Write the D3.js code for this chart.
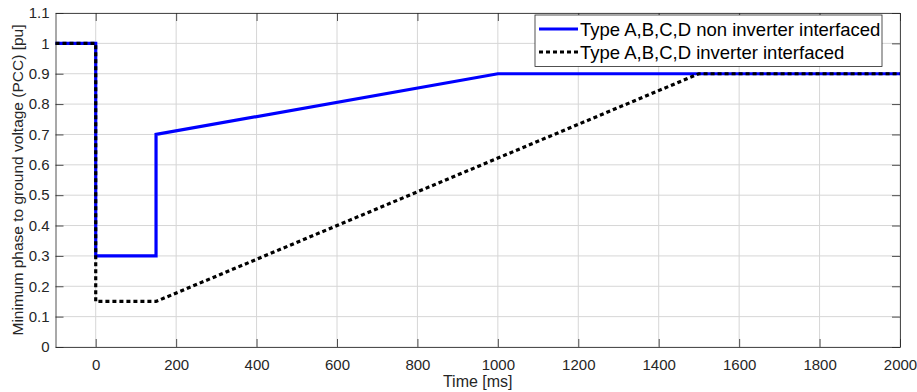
<!DOCTYPE html>
<html lang="en">
<head>
<meta charset="UTF-8">
<title>Voltage ride through</title>
<script src="https://d3js.org/d3.v7.min.js"></script>
<style>
    body { margin: 0; background: #fff; }
</style>
</head>
<body>
<script>
    var w = 917, h = 392;
    var margin = {left: 55.5, right: 17, top: 13, bottom: 45};
    var font = "'Liberation Sans', Arial, sans-serif";

    var xTicks = [0, 200, 400, 600, 800, 1000, 1200, 1400, 1600, 1800, 2000];
    var yTicks = [0, 0.1, 0.2, 0.3, 0.4, 0.5, 0.6, 0.7, 0.8, 0.9, 1, 1.1];

    var seriesNames = ["Type A,B,C,D non inverter interfaced", "Type A,B,C,D inverter interfaced"];
    var nonInvTime = [-100, 0, 0, 150, 150, 1000, 2000];
    var nonInvVolt = [1, 1, 0.3, 0.3, 0.7, 0.9, 0.9];
    var invTime = [-100, 0, 0, 150, 1500, 2000];
    var invVolt = [1, 1, 0.15, 0.15, 0.9, 0.9];

    var svg = d3.select("body").append("svg")
        .attr("width", w).attr("height", h);

    var x = d3.scaleLinear().domain([-100, 2000]).range([margin.left, w - margin.right]);
    var y = d3.scaleLinear().domain([0, 1.1]).range([h - margin.bottom, margin.top]);

    var x0 = x.range()[0], x1 = x.range()[1], y0 = y.range()[0], y1 = y.range()[1];

    // grid
    var grid = svg.append("g").attr("stroke", "#d6d6d6").attr("stroke-width", 1);
    xTicks.forEach(function (t) {
        grid.append("line").attr("x1", x(t)).attr("x2", x(t)).attr("y1", y0).attr("y2", y1);
    });
    yTicks.forEach(function (t) {
        grid.append("line").attr("x1", x0).attr("x2", x1).attr("y1", y(t)).attr("y2", y(t));
    });

    // axes, box with inward ticks
    var xAxis = d3.axisBottom(x).tickValues(xTicks).tickSizeInner(-8).tickSizeOuter(0).tickPadding(12)
        .tickFormat(d3.format("d"));
    var yAxis = d3.axisLeft(y).tickValues(yTicks).tickSizeInner(-8).tickSizeOuter(0).tickPadding(6)
        .tickFormat(d3.format("~g"));

    var gx = svg.append("g").attr("transform", "translate(0," + y0 + ")").call(xAxis);
    var gy = svg.append("g").attr("transform", "translate(" + x0 + ",0)").call(yAxis);
    var gxTop = svg.append("g").attr("transform", "translate(0," + y1 + ")")
        .call(d3.axisTop(x).tickValues(xTicks).tickSizeInner(-8).tickSizeOuter(0).tickFormat(""));
    var gyRight = svg.append("g").attr("transform", "translate(" + x1 + ",0)")
        .call(d3.axisRight(y).tickValues(yTicks).tickSizeInner(-8).tickSizeOuter(0).tickFormat(""));

    [gx, gy, gxTop, gyRight].forEach(function (g) {
        g.attr("font-size", null).attr("font-family", null);
        g.select(".domain").attr("stroke", "#262626").attr("stroke-width", 0.8);
        g.selectAll(".tick line").attr("stroke", "#262626").attr("stroke-width", 0.8);
        g.selectAll(".tick text").attr("fill", "#262626")
            .style("font-family", font).style("font-size", "15px");
    });

    // axis titles
    svg.append("text")
        .attr("x", (x0 + x1) / 2).attr("y", h - 5)
        .attr("text-anchor", "middle").attr("fill", "#262626")
        .style("font-family", font).style("font-size", "16px")
        .text("Time [ms]");
    svg.append("text")
        .attr("transform", "translate(23," + ((y0 + y1) / 2) + ") rotate(-90)")
        .attr("text-anchor", "middle").attr("fill", "#262626")
        .style("font-family", font).style("font-size", "15.5px")
        .text("Minimum phase to ground voltage (PCC) [pu]");

    var line = d3.line().x(function (d) { return x(d[0]); }).y(function (d) { return y(d[1]); });

    var nonInv = d3.zip(nonInvTime, nonInvVolt);
    var inv = d3.zip(invTime, invVolt);

    svg.append("path").datum(nonInv).attr("d", line)
        .attr("fill", "none").attr("stroke", "#0000ff").attr("stroke-width", 3.2);
    svg.append("path").datum(inv).attr("d", line)
        .attr("fill", "none").attr("stroke", "#000").attr("stroke-width", 3.2)
        .attr("stroke-dasharray", "4,3");

    // legend
    var lg = svg.append("g").attr("transform", "translate(535,15)");
    lg.append("rect").attr("width", 347).attr("height", 51.5)
        .attr("fill", "#fff").attr("stroke", "#262626").attr("stroke-width", 0.8);
    lg.append("line").attr("x1", 4).attr("x2", 43).attr("y1", 14).attr("y2", 14)
        .attr("stroke", "#0000ff").attr("stroke-width", 3.2);
    lg.append("line").attr("x1", 4).attr("x2", 43).attr("y1", 37).attr("y2", 37)
        .attr("stroke", "#000").attr("stroke-width", 3.2).attr("stroke-dasharray", "4,3");
    lg.selectAll("text.leg").data(seriesNames).enter().append("text")
        .attr("class", "leg")
        .attr("x", 45).attr("y", function (d, i) { return 20.5 + i * 23; })
        .attr("fill", "#000")
        .style("font-family", font).style("font-size", "18.5px")
        .text(function (d) { return d; });
</script>
</body>
</html>
